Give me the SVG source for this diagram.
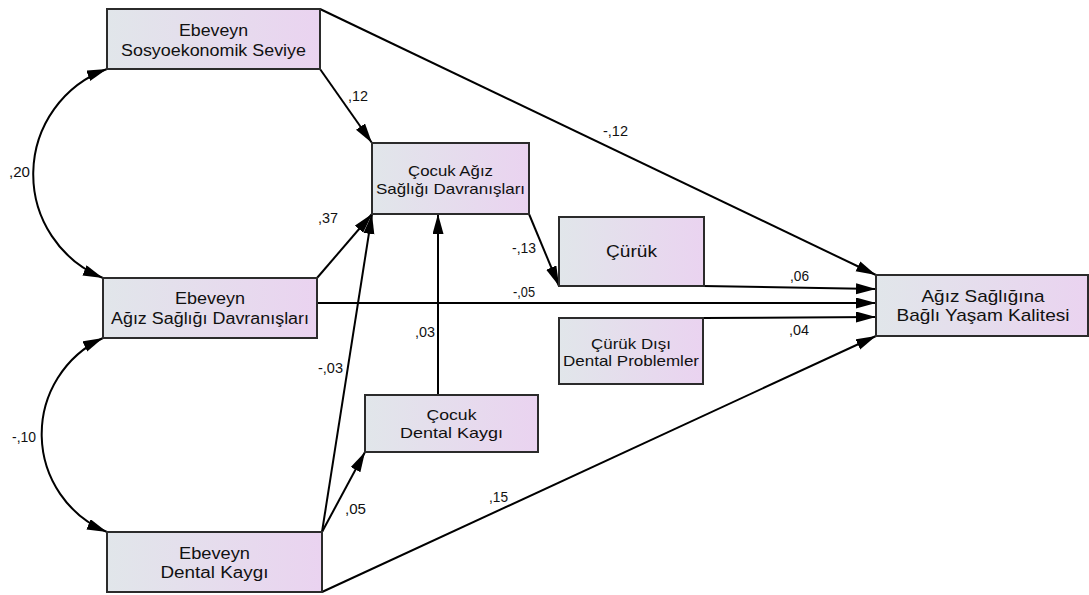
<svg xmlns="http://www.w3.org/2000/svg" width="1089" height="595" viewBox="0 0 1089 595">
  <defs>
    <linearGradient id="boxFill" x1="0" y1="0" x2="1" y2="0">
      <stop offset="0" stop-color="#e1e6ea"/>
      <stop offset="1" stop-color="#ead3f0"/>
    </linearGradient>
    <marker id="arr" markerUnits="userSpaceOnUse" markerWidth="21" markerHeight="12" refX="20" refY="5.5" orient="auto-start-reverse">
      <path d="M0,0 L20,5.5 L0,11 z" fill="#000"/>
    </marker>
    <style>
      .box { fill: url(#boxFill); stroke: #2b2b2b; stroke-width: 2; }
      .nt { font-family: "Liberation Sans", Arial, sans-serif; fill: #111; text-anchor: middle; }
      .lbl { font-family: "Liberation Sans", Arial, sans-serif; font-size: 14px; fill: #111; }
      .edge { fill: none; stroke: #000; stroke-width: 2; marker-end: url(#arr); }
      .cov { fill: none; stroke: #000; stroke-width: 2; marker-start: url(#arr); marker-end: url(#arr); }
    </style>
  </defs>

  <rect width="1089" height="595" fill="#fff"/>

  <!-- paths and covariances -->
  <g id="connectors">
    <path class="cov" d="M107,69 A112,112 0 0 0 103,278"/>
    <path class="cov" d="M103,338 A106,106 0 0 0 107,532"/>
    <line class="edge" x1="320" y1="69" x2="372" y2="143"/>
    <line class="edge" x1="320" y1="9" x2="876" y2="275"/>
    <line class="edge" x1="317" y1="278" x2="372" y2="214"/>
    <line class="edge" x1="317" y1="303" x2="876" y2="303"/>
    <line class="edge" x1="529" y1="214" x2="559" y2="286"/>
    <line class="edge" x1="322" y1="532" x2="372" y2="214"/>
    <line class="edge" x1="322" y1="532" x2="365" y2="452"/>
    <line class="edge" x1="438" y1="395" x2="438" y2="214"/>
    <line class="edge" x1="322" y1="592" x2="876" y2="336"/>
    <line class="edge" x1="703" y1="286" x2="876" y2="289"/>
    <line class="edge" x1="703" y1="318" x2="876" y2="317"/>

    <g class="lbl">
      <text x="348" y="101" textLength="20" lengthAdjust="spacingAndGlyphs">,12</text>
      <text x="603" y="136" textLength="25" lengthAdjust="spacingAndGlyphs">-,12</text>
      <text x="9" y="177" textLength="21" lengthAdjust="spacingAndGlyphs">,20</text>
      <text x="318" y="223" textLength="20" lengthAdjust="spacingAndGlyphs">,37</text>
      <text x="512" y="253" textLength="24" lengthAdjust="spacingAndGlyphs">-,13</text>
      <text x="513" y="297" textLength="22" lengthAdjust="spacingAndGlyphs">-,05</text>
      <text x="790" y="281" textLength="19" lengthAdjust="spacingAndGlyphs">,06</text>
      <text x="789" y="335" textLength="20" lengthAdjust="spacingAndGlyphs">,04</text>
      <text x="415" y="337" textLength="20" lengthAdjust="spacingAndGlyphs">,03</text>
      <text x="318" y="373" textLength="25" lengthAdjust="spacingAndGlyphs">-,03</text>
      <text x="12" y="442" textLength="24" lengthAdjust="spacingAndGlyphs">-,10</text>
      <text x="345" y="514" textLength="21" lengthAdjust="spacingAndGlyphs">,05</text>
      <text x="489" y="502" textLength="19" lengthAdjust="spacingAndGlyphs">,15</text>
    </g>
  </g>

  <!-- observed variables -->
  <g id="ebeveyn-sosyoekonomik">
    <rect class="box" x="107" y="9" width="213" height="60"/>
    <text class="nt" font-size="16" x="213.5" y="36" textLength="69" lengthAdjust="spacingAndGlyphs">Ebeveyn</text>
    <text class="nt" font-size="16" x="213.5" y="56" textLength="185" lengthAdjust="spacingAndGlyphs">Sosyoekonomik Seviye</text>
  </g>

  <g id="ebeveyn-agiz-sagligi">
    <rect class="box" x="103" y="278" width="214" height="60"/>
    <text class="nt" font-size="16" x="210" y="304" textLength="70" lengthAdjust="spacingAndGlyphs">Ebeveyn</text>
    <text class="nt" font-size="16" x="210" y="324" textLength="198" lengthAdjust="spacingAndGlyphs">Ağız Sağlığı Davranışları</text>
  </g>

  <g id="ebeveyn-dental-kaygi">
    <rect class="box" x="107" y="532" width="215" height="60"/>
    <text class="nt" font-size="16" x="214.5" y="559" textLength="71" lengthAdjust="spacingAndGlyphs">Ebeveyn</text>
    <text class="nt" font-size="16" x="214.5" y="578" textLength="108" lengthAdjust="spacingAndGlyphs">Dental Kaygı</text>
  </g>

  <g id="cocuk-agiz-sagligi">
    <rect class="box" x="372" y="143" width="157" height="71"/>
    <text class="nt" font-size="15" x="450.5" y="176" textLength="85" lengthAdjust="spacingAndGlyphs">Çocuk Ağız</text>
    <text class="nt" font-size="15" x="450.5" y="194" textLength="149" lengthAdjust="spacingAndGlyphs">Sağlığı Davranışları</text>
  </g>

  <g id="cocuk-dental-kaygi">
    <rect class="box" x="365" y="395" width="173" height="57"/>
    <text class="nt" font-size="15" x="451.5" y="420" textLength="50" lengthAdjust="spacingAndGlyphs">Çocuk</text>
    <text class="nt" font-size="15" x="451.5" y="438" textLength="103" lengthAdjust="spacingAndGlyphs">Dental Kaygı</text>
  </g>

  <g id="curuk">
    <rect class="box" x="559" y="217" width="145" height="69"/>
    <text class="nt" font-size="17" x="631.5" y="257" textLength="51" lengthAdjust="spacingAndGlyphs">Çürük</text>
  </g>

  <g id="curuk-disi">
    <rect class="box" x="559" y="318" width="144" height="66"/>
    <text class="nt" font-size="15" x="631" y="349" textLength="80" lengthAdjust="spacingAndGlyphs">Çürük Dışı</text>
    <text class="nt" font-size="15" x="631" y="366" textLength="136" lengthAdjust="spacingAndGlyphs">Dental Problemler</text>
  </g>

  <g id="yasam-kalitesi">
    <rect class="box" x="876" y="275" width="212" height="61"/>
    <text class="nt" font-size="17" x="983" y="302" textLength="123" lengthAdjust="spacingAndGlyphs">Ağız Sağlığına</text>
    <text class="nt" font-size="17" x="983" y="321" textLength="173" lengthAdjust="spacingAndGlyphs">Bağlı Yaşam Kalitesi</text>
  </g>
</svg>
